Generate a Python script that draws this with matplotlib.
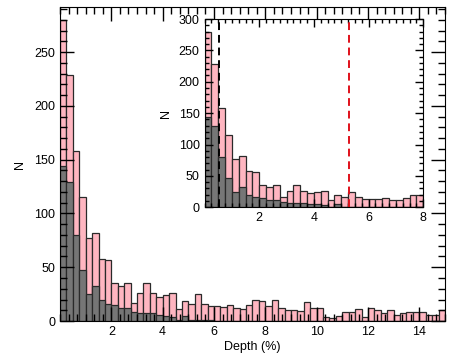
import numpy as np
import matplotlib.pyplot as plt
from matplotlib.ticker import MultipleLocator

plt.rcParams['font.family'] = ['Liberation Sans', 'DejaVu Sans']
plt.rcParams['font.size'] = 9

# histogram, bins of 0.25 % depth from 0 to 15
bin_width = 0.25
n_all = [280, 229, 158, 115, 77, 82, 58, 57, 35, 33,
         35, 17, 26, 35, 26, 22, 24, 26, 11, 19,
         16, 25, 16, 14, 14, 13, 15, 12, 11, 15,
         20, 19, 14, 20, 12, 10, 10, 9, 18, 12,
         12, 4, 3, 5, 8, 8, 11, 4, 12, 10,
         7, 10, 6, 7, 8, 8, 8, 6, 6, 10]
n_sub = [144, 129, 80, 47, 25, 33, 20, 16, 15, 12,
         12, 8, 7, 7, 7, 6, 5, 4, 1, 5,
         1, 1, 1, 1, 0, 0, 0, 0, 0, 0,
         0, 0, 0, 0, 0, 0, 0, 0, 0, 0,
         0, 0, 0, 0, 0, 0, 0, 0, 0, 0,
         0, 0, 0, 0, 0, 0, 0, 0, 0, 0]
left_edges = np.arange(len(n_all)) * bin_width

x_black = 0.52   # dashed lines in the inset
x_red = 5.29

pink = "#ffb6c1"
grey = "#767676"
edge = "#2a2a2a"


def draw_hist(ax):
    ax.bar(left_edges, n_all, width=bin_width, align="edge", color=pink,
           edgecolor=edge, linewidth=0.9)
    ax.bar(left_edges, n_sub, width=bin_width, align="edge", color=grey,
           edgecolor=edge, linewidth=0.9)


fig = plt.figure(figsize=(4.63, 3.54), dpi=100)

ax = fig.add_axes([0.1296, 0.0932, 0.8315, 0.887])
draw_hist(ax)
ax.set_xlim(0, 15)
ax.set_ylim(0, 292)
ax.set_xticks([2, 4, 6, 8, 10, 12, 14])
ax.xaxis.set_minor_locator(MultipleLocator(2 / 6))
ax.set_yticks([0, 50, 100, 150, 200, 250])
ax.yaxis.set_minor_locator(MultipleLocator(10))
ax.tick_params(which="both", direction="in", top=True, right=True, width=1)
ax.tick_params(which="major", length=10)
ax.tick_params(which="minor", length=5)
ax.set_xlabel("Depth (%)", labelpad=2)
ax.set_ylabel("N", labelpad=6)

ins = fig.add_axes([0.4417, 0.4144, 0.4726, 0.5319])
draw_hist(ins)
ins.axvline(x_black, color="black", linestyle=(0, (4, 2.5)), linewidth=1.4)
ins.axvline(x_red, color="#e0101a", linestyle=(0, (4, 2.5)), linewidth=1.4)
ins.set_xlim(0, 8)
ins.set_ylim(0, 300)
ins.set_xticks([2, 4, 6, 8])
ins.xaxis.set_minor_locator(MultipleLocator(0.25))
ins.set_yticks([0, 50, 100, 150, 200, 250, 300])
ins.yaxis.set_minor_locator(MultipleLocator(10))
ins.tick_params(which="both", direction="in", top=True, right=True, width=1)
ins.tick_params(which="major", length=6)
ins.tick_params(which="minor", length=3)
ins.set_ylabel("N", labelpad=5)

fig.savefig("out.png", dpi=100)
